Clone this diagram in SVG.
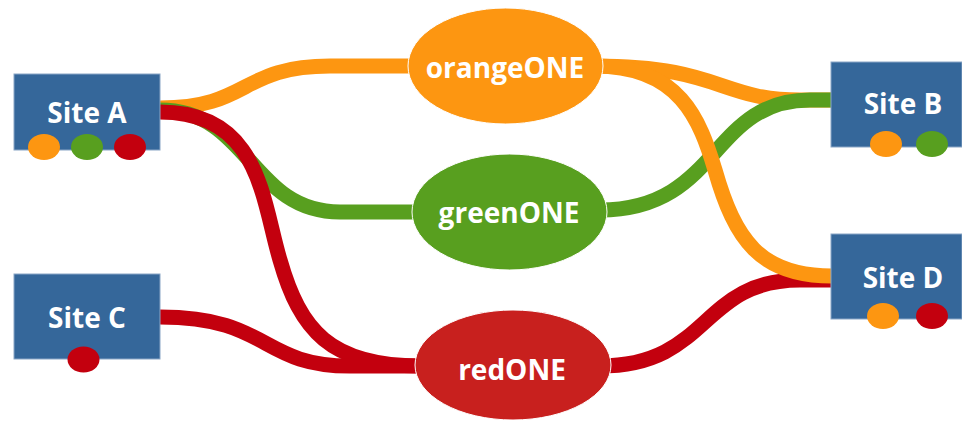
<svg xmlns="http://www.w3.org/2000/svg" width="962" height="428" viewBox="0 0 962 428">
<style>
.bg{fill:#ffffff}
.link{fill:none;stroke-width:15}
.o{stroke:#FD9611}
.g{stroke:#589F1F}
.r{stroke:#C3000E}
.box{fill:#35679A;stroke:#8AA6C6;stroke-width:1}
.lbl{font-family:"Open Sans","Noto Sans",sans-serif;font-weight:700;font-size:28px;fill:#ffffff;text-anchor:middle}
.dot-o{fill:#FD9611}
.dot-g{fill:#589F1F}
.dot-r{fill:#C3000E}
</style>
<rect class="bg" x="0" y="0" width="962" height="428"/>
<g id="connectors">
  <path class="link o" d="M160,108 C250,108 240,66 330,66 L420,66"/>
  <path class="link g" d="M160,110 C250,110 250,212 340,212 L420,212"/>
  <path class="link r" d="M160,112 C260,112 262,200 280,260 C300,330 330,366 420,366"/>
  <path class="link r" d="M160,317 C270,317 260,366 350,366 L420,366"/>
  <path class="link o" d="M595,66 C720,66 720,100 800,100 L832,100"/>
  <path class="link g" d="M600,210 C720,210 710,100 810,100 L832,100"/>
  <path class="link r" d="M600,366 C710,366 700,280 800,280 L832,280"/>
  <path class="link o" d="M595,66 C680,66 700,120 715,170 C735,240 760,276 832,276"/>
</g>
<g id="orangeONE">
  <ellipse cx="505.5" cy="66" rx="97.5" ry="58" fill="#FD9611" stroke="#ffffff" stroke-width="1"/>
  <text class="lbl" x="505" y="78">orangeONE</text>
</g>
<g id="greenONE">
  <ellipse cx="509.5" cy="212" rx="97.5" ry="58" fill="#589F1F" stroke="#ffffff" stroke-width="1"/>
  <text class="lbl" x="509" y="223">greenONE</text>
</g>
<g id="redONE">
  <ellipse cx="513" cy="365" rx="98" ry="55" fill="#C8201E" stroke="#ffffff" stroke-width="1"/>
  <text class="lbl" x="512" y="380">redONE</text>
</g>
<g id="siteA">
  <rect class="box" x="14" y="74" width="146" height="76"/>
  <text class="lbl" x="87" y="123">Site A</text>
  <ellipse class="dot-o" cx="44" cy="147" rx="16" ry="13"/>
  <ellipse class="dot-g" cx="87" cy="147" rx="16" ry="13"/>
  <ellipse class="dot-r" cx="130" cy="147" rx="16" ry="13"/>
</g>
<g id="siteC">
  <rect class="box" x="14" y="274" width="146" height="85"/>
  <text class="lbl" x="87" y="328">Site C</text>
  <ellipse class="dot-r" cx="83.5" cy="359.5" rx="16" ry="13"/>
</g>
<g id="siteB">
  <rect class="box" x="831" y="62" width="131" height="85"/>
  <text class="lbl" x="903" y="114">Site B</text>
  <ellipse class="dot-o" cx="886" cy="144" rx="16" ry="13"/>
  <ellipse class="dot-g" cx="932" cy="144" rx="16" ry="13"/>
</g>
<g id="siteD">
  <rect class="box" x="831" y="234" width="131" height="85"/>
  <text class="lbl" x="903" y="288">Site D</text>
  <ellipse class="dot-o" cx="883" cy="316" rx="16" ry="13"/>
  <ellipse class="dot-r" cx="932" cy="316" rx="16" ry="13"/>
</g>
</svg>
